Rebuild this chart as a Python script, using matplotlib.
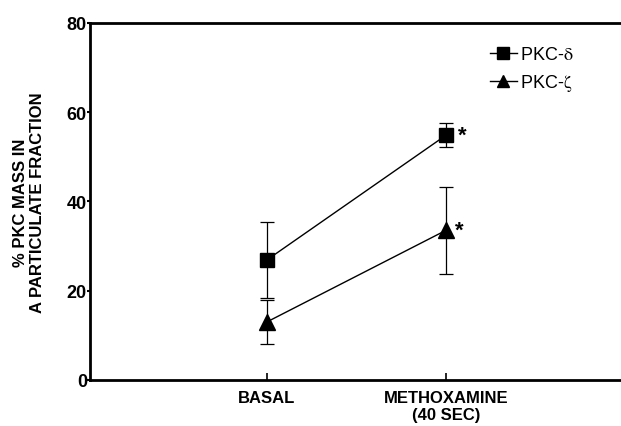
import matplotlib
matplotlib.use("Agg")
import matplotlib.pyplot as plt

categories = ["BASAL", "METHOXAMINE\n(40 SEC)"]
delta_mean = [26.9, 54.8]
delta_err = [8.5, 2.7]
zeta_mean = [13.0, 33.5]
zeta_err = [5.0, 9.7]
yticks = [0, 20, 40, 60, 80]

plt.rcParams['font.family'] = ['Liberation Sans', 'DejaVu Sans']
plt.rcParams['mathtext.fontset'] = 'stix'

fig = plt.figure(figsize=(6.21, 4.27), dpi=100)
ax = fig.add_axes([0.145, 0.108, 0.855, 0.836])

x = list(range(len(categories)))
d = ax.errorbar(x, delta_mean, yerr=delta_err, color='black', marker='s', ms=10,
                lw=1.0, elinewidth=0.9, capsize=5, capthick=0.9)
z = ax.errorbar(x, zeta_mean, yerr=zeta_err, color='black', marker='^', ms=11,
                lw=1.0, elinewidth=0.9, capsize=5, capthick=0.9)

ax.text(x[1] + 0.07, delta_mean[1], '*', fontsize=16, fontweight='bold',
        va='center', ha='left')
ax.text(x[1] + 0.05, zeta_mean[1], '*', fontsize=16, fontweight='bold',
        va='center', ha='left')

ax.set_xlim(-0.99, 1.98)
ax.set_ylim(0, 80)
ax.set_xticks(x)
ax.set_xticklabels(categories, fontsize=12, fontweight='bold', linespacing=1.2)
ax.set_yticks(yticks)
ax.set_yticklabels([str(v) for v in yticks], fontsize=13, fontweight='bold')
ax.tick_params(axis='x', direction='in', length=5, width=1.2, pad=7)
ax.tick_params(axis='y', direction='out', length=2.2, width=1.5, pad=0)

for s in ['left', 'bottom', 'top']:
    ax.spines[s].set_linewidth(2)
ax.spines['right'].set_visible(False)

ax.set_ylabel('% PKC MASS IN\nA PARTICULATE FRACTION', fontsize=12,
              fontweight='bold', labelpad=16, linespacing=1.1)

h1 = d.lines[0]
h2 = z.lines[0]
leg = ax.legend([h1, h2], [r'PKC-$\mathrm{\delta}$', r'PKC-$\mathrm{\zeta}$'],
                loc='upper left',
                bbox_to_anchor=(0.753, 0.935), frameon=False, borderpad=0,
                borderaxespad=0, fontsize=13, handlelength=1.5,
                handletextpad=0.15, labelspacing=0.5, markerscale=0.8)

fig.savefig('out.png', dpi=100)
